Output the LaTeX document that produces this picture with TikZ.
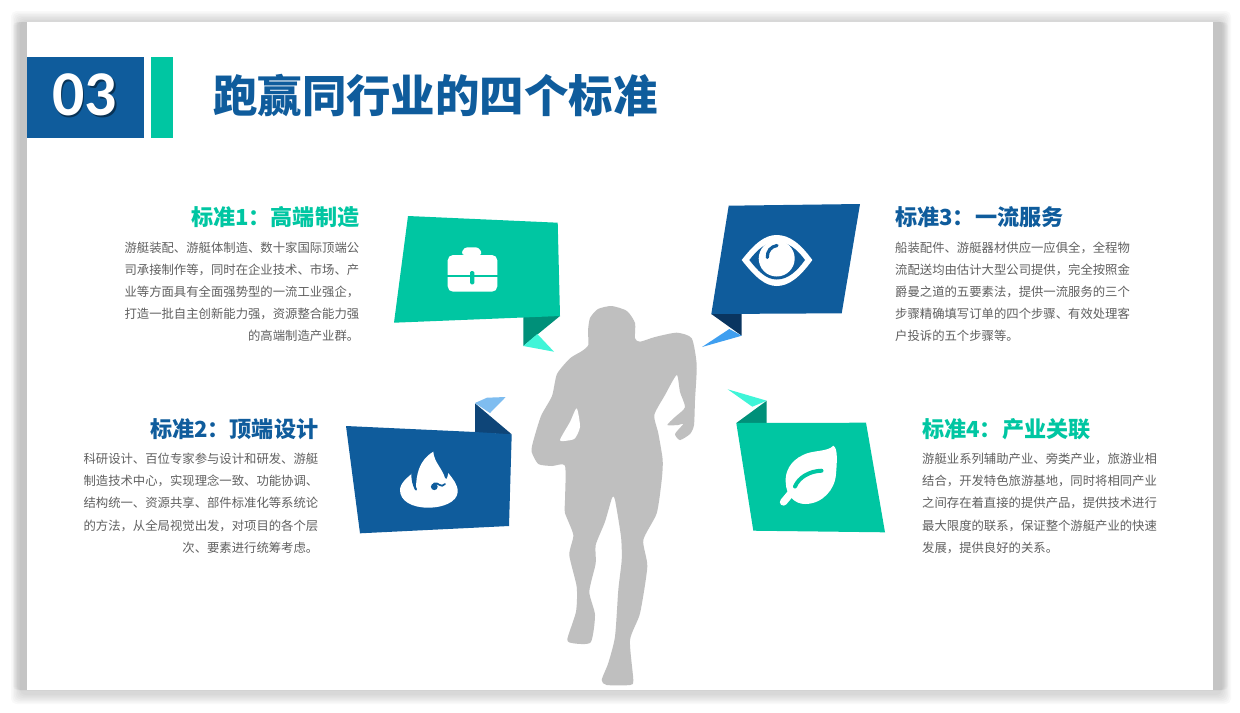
\documentclass[tikz,border=0pt]{standalone}
\usepackage{fontspec}
\setmainfont{Carlito}
\newfontfamily\cjk{Noto Sans CJK SC}
\definecolor{mainblue}{HTML}{0F5C9C}
\definecolor{maingreen}{HTML}{00C6A2}
\definecolor{darkteal}{HTML}{009079}
\definecolor{lightteal}{HTML}{3FF5D8}
\definecolor{navyA}{HTML}{0A3560}
\definecolor{navyB}{HTML}{0E4578}
\definecolor{skyA}{HTML}{3F9FF0}
\definecolor{skyB}{HTML}{7FBDF0}
\definecolor{bodygray}{HTML}{606060}
\definecolor{figgray}{HTML}{BFBFBF}
\tikzset{
  headtext/.style={inner sep=0pt,font=\cjk\bfseries\fontsize{22.2}{26}\selectfont},
  bodytext/.style={inner sep=0pt,text=bodygray,text width=236bp,font=\cjk\fontsize{12.4}{22.2}\selectfont},
  bodyleft/.style={bodytext,align=left,anchor=north west},
  bodyright/.style={bodytext,align=right,anchor=north east},
  softlayer/.style={fill=black,fill opacity=0.025,draw=none,rounded corners=4},
  bandlayer/.style={fill=black,fill opacity=0.02,draw=none,rounded corners=3}
}
\begin{document}
\begin{tikzpicture}[x=0.75bp,y=-0.75bp,every node/.append style={scale=0.75}]
\useasboundingbox (0,0) rectangle (1240,712);
% slide shadow
\foreach \e in {0,1.5,...,9}{
  \fill[softlayer] (20-\e,20-\e) rectangle (1222+\e,695+\e);
}
\foreach \e in {0,1,...,4}{
  \fill[bandlayer] (17-\e,22) rectangle (1224+\e,690);
}
\fill[white] (27,22) rectangle (1213,690);
% header
\fill[mainblue] (27,57) rectangle (143.5,138);
\fill[maingreen] (150.5,57) rectangle (172.5,138);
\node[inner sep=0pt,text=black,opacity=0.45,font=\bfseries\fontsize{64}{64}\selectfont] (numshadow) at (86,96.5) {03};
\node[inner sep=0pt,text=white,font=\bfseries\fontsize{64}{64}\selectfont] (num) at (84.5,95) {03};
\node[inner sep=0pt,anchor=west,text=mainblue,font=\cjk\bfseries\fontsize{44.6}{50}\selectfont] (title) at (213,96) {跑赢同行业的四个标准};
% bubble 1
\fill[darkteal] (523.3,316) -- (560,316) -- (523.3,346) -- cycle;
\fill[lightteal] (523.3,346) -- (537.3,334) -- (554,351.7) -- cycle;
\fill[maingreen] (408,216) -- (557.7,222.7) -- (560,316) -- (394,322.7) -- cycle;
% bubble 3
\fill[navyA] (711.3,314) -- (741.7,313) -- (741.7,335.7) -- cycle;
\fill[skyA] (741.7,335.7) -- (729.3,329) -- (702,347) -- cycle;
\fill[mainblue] (728.7,205.7) -- (860,204) -- (841.7,313.3) -- (711.3,314) -- cycle;
% bubble 2
\fill[navyB] (475,403.3) -- (511.7,434.3) -- (475,433) -- cycle;
\fill[skyB] (475,403) -- (487,397.7) -- (505.7,397) -- (490,413) -- cycle;
\fill[mainblue] (346,426) -- (475,432) -- (511.7,434.3) -- (509,526) -- (360,533.3) -- cycle;
% bubble 4
\fill[darkteal] (736.3,423) -- (766.7,400.7) -- (766.7,423) -- cycle;
\fill[lightteal] (766.7,400.7) -- (727.7,389.3) -- (752.3,406.7) -- cycle;
\fill[maingreen] (736.3,423) -- (866,422.7) -- (885,532.3) -- (753.3,530.7) -- cycle;
% briefcase
\fill[white,rounded corners=2.5] (461,255) -- (464,247.3) -- (479,247.3) -- (482.5,255) -- cycle;
\fill[white,rounded corners=4] (447.7,255) rectangle (497.3,291.7);
\fill[maingreen] (447,275) rectangle (498,277.2);
\fill[maingreen,rounded corners=1] (470,271) rectangle (474.3,284.3);
% eye
\fill[white] (741.7,260) .. controls (755,243) and (765,235) .. (776.7,235) .. controls (789,235) and (800,243) .. (812.3,260) .. controls (800,277) and (789,286) .. (776.7,286) .. controls (765,286) and (755,277) .. (741.7,260) -- cycle;
\fill[mainblue] (749.3,260) .. controls (758,249) and (766,242) .. (776.7,242) .. controls (788,242) and (797,249) .. (805,260) .. controls (797,271) and (788,279.5) .. (776.7,279.5) .. controls (766,279.5) and (758,271) .. (749.3,260) -- cycle;
\fill[white] (776.7,258.5) circle [radius=18];
\draw[mainblue,line width=2.4bp,line cap=round] (767.3,257.5) .. controls (767,251) and (771,246.5) .. (777,245.5);
% flame
\fill[white] (433.3,451.7) .. controls (434,462) and (442,468) .. (445,478) .. controls (447,482) and (448,474) .. (448.3,473) .. controls (452,478) and (458,484) .. (457.7,492) .. controls (457,502) and (443,507.7) .. (428.3,507.7) .. controls (412,507.7) and (400,501) .. (400,490) .. controls (400,483) and (408,477) .. (412.3,473.3) .. controls (412,478) and (413,484) .. (416,489) .. controls (416,475) and (419,460) .. (433.3,451.7) -- cycle;
\draw[mainblue,line width=1.6bp,line cap=round] (412.3,474) .. controls (412.5,480) and (413.5,485) .. (416,489.5);
\fill[mainblue] (434.3,486.7) circle [radius=3.4];
\draw[mainblue,line width=1.3bp,line cap=round] (434,483.5) .. controls (438,481.5) and (441,489) .. (445,484);
% leaf
\draw[white,line width=5.5bp,line cap=round] (791,493) -- (783.5,502);
\fill[white] (833.3,445.7) .. controls (828,452) and (812,450) .. (803,455) .. controls (790,461) and (785,472) .. (785.7,482) .. controls (786,496) and (795,504) .. (805,504) .. controls (822,504) and (835,490) .. (836,474) .. controls (837,462) and (838,448) .. (833.3,445.7) -- cycle;
\draw[maingreen,line width=3bp,line cap=round] (795,486.5) .. controls (799,477) and (810,471) .. (821.5,470.7);
% runner
\fill[figgray] plot[smooth cycle,tension=0.38] coordinates {
 (611.7,306) (598,309) (590,318) (588,331) (588.3,345) (582,351) (570,358.3) (557,374)
 (552,396) (541,416) (533,442) (531.7,452) (538.3,464) (552,466) (565,465.7) (565,500) (565,513) (573.3,535)
 (569.3,555) (576.7,586.7) (576,611.7) (567.3,639.3) (573.3,643.3) (590.7,642.3) (595,615)
 (589.3,591.7) (595.7,563.3) (595.7,545) (605,521.7) (612,498) (615,500) (621,536.7)
 (621.7,560) (618.3,590) (615,636.7) (608.3,663) (601.7,680) (606.7,685) (630,685) (633.3,680)
 (630,640) (640,613.3) (647.3,566.7) (643.3,540) (656.7,513.3) (661.7,480) (662.7,460)
 (658.3,433.3) (654.3,415) (665,395) (676.7,375) (680,392) (685,407.3) (675,417) (667.3,425) (678,425) (683.3,424)
 (675,434) (680,440) (690,434) (694,425) (695,400) (696.7,365) (691.7,338.3) (676.7,332.7)
 (655,337) (640,341.7) (635,338.3) (635,323) (627,311)
};
\fill[white] plot[smooth cycle,tension=0.4] coordinates {
 (576.7,408.3) (570,422) (560,440) (568,440.5) (575,438.3) (580,426.7)
};
% headings
\node[headtext,text=maingreen,anchor=east] (h1) at (359.5,217.5) {标准1：高端制造};
\node[headtext,text=mainblue,anchor=east] (h2) at (318.5,429.5) {标准2：顶端设计};
\node[headtext,text=mainblue,anchor=west] (h3) at (895,217.5) {标准3：一流服务};
\node[headtext,text=maingreen,anchor=west] (h4) at (922,429.5) {标准4：产业关联};
% bodies
\node[bodyright] (b1) at (359.5,241.5) {游艇装配、游艇体制造、数十家国际顶端公\\司承接制作等，同时在企业技术、市场、产\\业等方面具有全面强势型的一流工业强企，\\打造一批自主创新能力强，资源整合能力强\\的高端制造产业群。};
\node[bodyright] (b2) at (318.5,453) {科研设计、百位专家参与设计和研发、游艇\\制造技术中心，实现理念一致、功能协调、\\结构统一、资源共享、部件标准化等系统论\\的方法，从全局视觉出发，对项目的各个层\\次、要素进行统筹考虑。};
\node[bodyleft] (b3) at (895,241.5) {船装配件、游艇器材供应一应俱全，全程物\\流配送均由估计大型公司提供，完全按照金\\爵曼之道的五要素法，提供一流服务的三个\\步骤精确填写订单的四个步骤、有效处理客\\户投诉的五个步骤等。};
\node[bodyleft] (b4) at (922,453) {游艇业系列辅助产业、旁类产业，旅游业相\\结合，开发特色旅游基地，同时将相同产业\\之间存在着直接的提供产品，提供技术进行\\最大限度的联系，保证整个游艇产业的快速\\发展，提供良好的关系。};
\end{tikzpicture}
\end{document}
